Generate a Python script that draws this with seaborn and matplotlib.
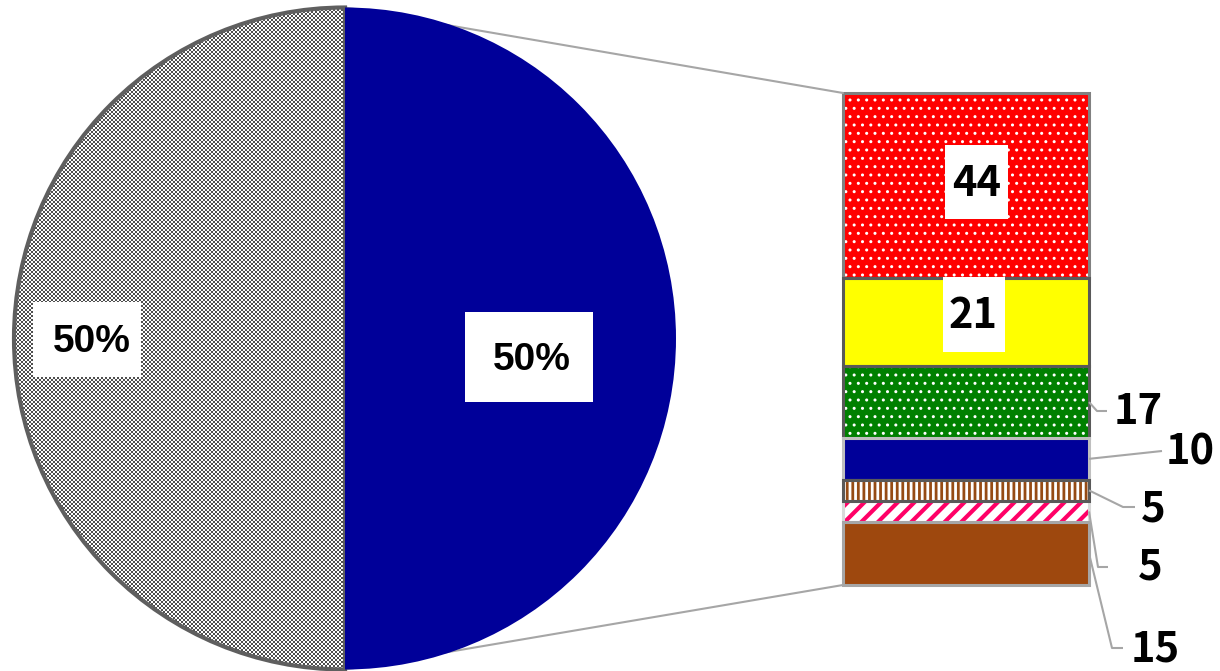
import numpy as np
import matplotlib
matplotlib.use("Agg")
import matplotlib.pyplot as plt
from matplotlib.colors import ListedColormap
from matplotlib.patches import Rectangle
import seaborn as sns

# ---------------- data ----------------
pie_labels = ["その他", "内訳"]
pie_values = [50, 50]          # right half (blue), left half (gray)
bar_labels = ["A", "B", "C", "D", "E", "F", "G"]
bar_values = [44, 21, 17, 10, 5, 5, 15]

# ---------------- style ----------------
sns.set_theme(style="white")
plt.rcParams["font.family"] = ["Noto Sans CJK JP", "DejaVu Sans"]

W, H = 1220, 671
fig = plt.figure(figsize=(W / 100, H / 100), dpi=100)
ax = fig.add_axes([0, 0, 1, 1])
ax.set_zorder(2)

# pie geometry (pixels)
cx, cy, r = 345, 338.5, 331
blue = "#000099"
checker_dark = "#4f4f4f"

wedges, _ = ax.pie(pie_values, center=(cx, cy), radius=r, startangle=-90,
                   counterclock=True, colors=[blue, "none"],
                   wedgeprops=dict(linewidth=0), frame=False)
wedges[0].set_zorder(3)
wedges[1].set_facecolor("none")
wedges[1].set_edgecolor("#5f5f5f")
wedges[1].set_linewidth(3.0)
wedges[1].set_zorder(1)

# pixel-exact checker texture for the gray half (2px squares), clipped to the wedge
n = int(2 * r + 12)
ii, jj = np.indices((n, n))
chk = ((ii // 2 + jj // 2) % 2).astype(float)
xo = int(cx - r - 6) + 1
yo = int(H - (cy + r + 6))
fim = fig.figimage(chk, xo=xo, yo=yo, origin="upper",
                   cmap=ListedColormap([checker_dark, "white"]), vmin=0, vmax=1,
                   zorder=0.5)
fim.set_clip_path(wedges[1])

# ---------------- stacked bar ----------------
bx0, bx1, by0, by1 = 843, 1089, 93, 585
ax2 = fig.add_axes([bx0 / W, (H - by1) / H, (bx1 - bx0) / W, (by1 - by0) / H])
ax2.set_zorder(1)
total = sum(bar_values)
faces = ["#FF0000", "#FFFF00", "#008000", "#000099", "#FFFFFF", "#FFFFFF", "#9E480E"]
hatches = ["..", None, "..", None, "|||", "//", None]
hcolors = ["white", None, "white", None, "#964B14", "#FF0066", None]
hwidths = [1.0, None, 1.0, None, 2.0, 3.0, None]
edges = ["#808080", "#595959", "#595959", "#BFBFBF", "#595959", "#D9D9D9", "#A6A6A6"]
edge_order = [0, 1, 2, 3, 5, 4, 6]

bottoms = np.concatenate([[0], np.cumsum(bar_values)[:-1]])
for i, (v, b) in enumerate(zip(bar_values, bottoms)):
    ax2.bar(0, v, bottom=b, width=1, color=faces[i], linewidth=0, zorder=1, clip_on=False)
    if hatches[i]:
        plt.rcParams["hatch.linewidth"] = hwidths[i]
        ax2.bar(0, v, bottom=b, width=1, facecolor="none", edgecolor=hcolors[i],
                hatch=hatches[i], linewidth=0, zorder=2, clip_on=False)
for k, i in enumerate(edge_order):
    ax2.bar(0, bar_values[i], bottom=bottoms[i], width=1, facecolor="none",
            edgecolor=edges[i], linewidth=2.2, zorder=3 + k, clip_on=False)
ax2.set_xlim(-0.5, 0.5)
ax2.set_ylim(total, 0)
ax2.axis("off")

# connector lines pie -> bar
line_c = "#A6A6A6"
ax.plot([cx, bx0], [cy - r, by0], color=line_c, lw=1.5, zorder=0.5)
ax.plot([cx, bx0], [cy + r, by1], color=line_c, lw=1.5, zorder=0.5)

# ---------------- labels ----------------
digit_h = 29
def label(x, y, s, box=None, weight="bold", size=30, family=None):
    if box is not None:
        bw, bh, bcx, bcy = box
        ax.add_patch(Rectangle((bcx - bw / 2, bcy - bh / 2), bw, bh,
                               facecolor="white", edgecolor="none", zorder=5))
    kw = {}
    if family:
        kw["family"] = family
    ax.text(x, y + digit_h / 2, s, ha="center", va="baseline", fontsize=size,
            fontweight=weight, color="black", zorder=6, **kw)

pcts = [100 * v / sum(pie_values) for v in pie_values]
pfam = ["Liberation Sans", "DejaVu Sans"]
label(532, 356, f"{pcts[0]:.0f}%", box=(128, 90, 529, 357), weight="bold", size=28, family=pfam)
label(92, 338, f"{pcts[1]:.0f}%", box=(108, 75, 87, 339.5), weight="bold", size=28, family=pfam)

# inside labels
label(977, 182, f"{bar_values[0]}", box=(63, 74, 976.5, 182))
label(973, 313, f"{bar_values[1]}", box=(62, 75, 974, 314.5))

# outside labels with leader lines
def seg_mid_px(i):
    d = ax2.transData.transform((0.5, bottoms[i] + bar_values[i] / 2))
    return d[0], H - d[1]

outside = {2: [(1097, 411), (1107, 411), (1138, 410)],
           3: [(1162, 451), None, (1190, 450)],
           4: [(1123, 507), (1135, 507), (1153, 507)],
           5: [(1098, 567), (1108, 567), (1150, 565)],
           6: [(1112, 648), (1123, 648), (1155, 647)]}
for i, (p1, p2, tp) in outside.items():
    sx, sy = seg_mid_px(i)
    xs, ys = [sx, p1[0]], [sy, p1[1]]
    if p2:
        xs.append(p2[0]); ys.append(p2[1])
    ax.plot(xs, ys, color=line_c, lw=1.5, zorder=0.5, solid_capstyle="butt")
    label(tp[0], tp[1], f"{bar_values[i]}")

ax.set_xlim(0, W)
ax.set_ylim(H, 0)
ax.set_aspect("auto")
ax.axis("off")

fig.savefig("out.png", dpi=100, facecolor="white")
